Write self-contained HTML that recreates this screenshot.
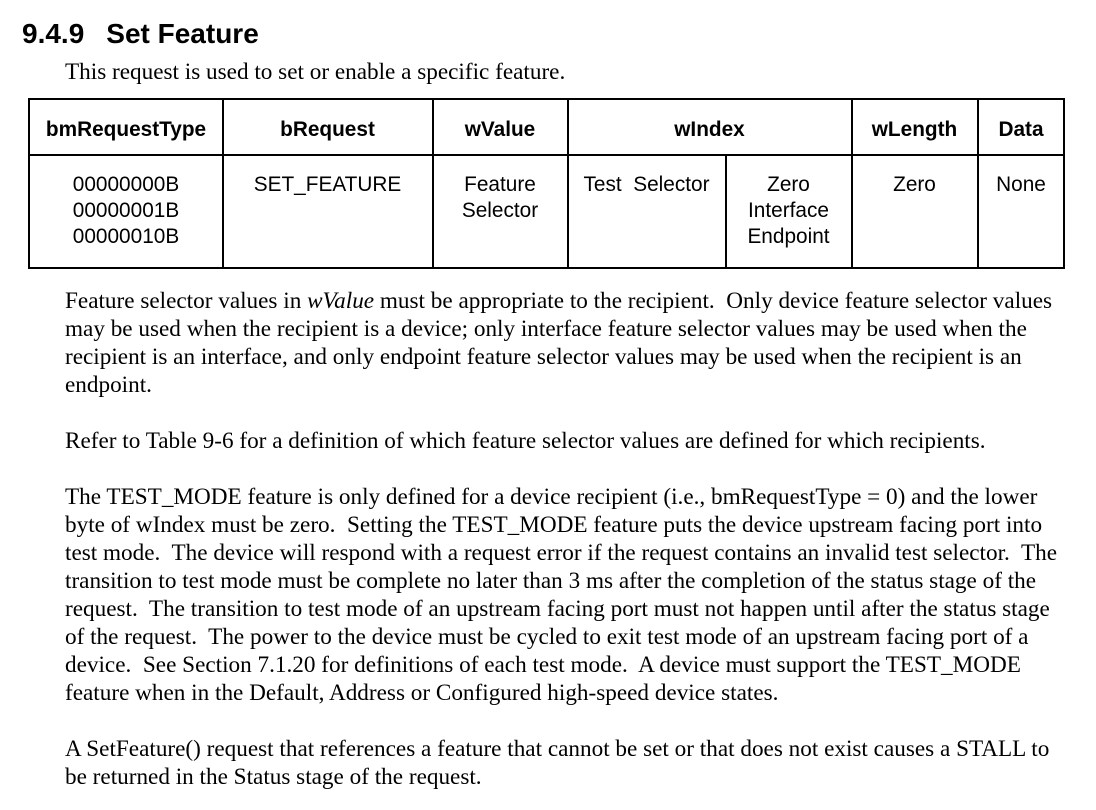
<!DOCTYPE html>
<html><head><meta charset="utf-8"><style>
body{margin:0;width:1096px;height:810px;background:#fff;position:relative;overflow:hidden;color:#000}
.s{font-family:"Liberation Sans",sans-serif}
.t{font-family:"Liberation Serif",serif;font-size:23.2px;position:absolute;left:65px;white-space:nowrap;line-height:28px}
.a{position:absolute}
.c{position:absolute;font-family:"Liberation Sans",sans-serif;font-size:20.8px;text-align:center;line-height:26px;white-space:nowrap}
.h{font-weight:bold;top:117px}
.vl{position:absolute;background:#000;width:1.5px}
</style></head><body>
<div class="a s" style="left:22px;top:18px;font-size:28px;font-weight:bold">9.4.9<span style="display:inline-block;width:22px"></span>Set Feature</div>
<div class="t" style="top:58px">This request is used to set or enable a specific feature.</div>

<div class="a" style="left:28px;top:98px;width:1033px;height:167px;border:2.5px solid #000"></div>
<div class="a" style="left:29px;top:154px;width:1035px;height:1.5px;background:#000"></div>
<div class="vl" style="left:222px;top:100px;height:167px"></div>
<div class="vl" style="left:432px;top:100px;height:167px"></div>
<div class="vl" style="left:567px;top:100px;height:167px"></div>
<div class="vl" style="left:725px;top:155px;height:112px"></div>
<div class="vl" style="left:851px;top:100px;height:167px"></div>
<div class="vl" style="left:977px;top:100px;height:167px"></div>

<div class="c h" style="left:30px;width:192px">bmRequestType</div>
<div class="c h" style="left:223px;width:209px">bRequest</div>
<div class="c h" style="left:433px;width:134px">wValue</div>
<div class="c h" style="left:568px;width:283px">wIndex</div>
<div class="c h" style="left:852px;width:125px">wLength</div>
<div class="c h" style="left:978px;width:86px">Data</div>

<div class="c" style="left:30px;width:192px;top:172px">00000000B<br>00000001B<br>00000010B</div>
<div class="c" style="left:223px;width:209px;top:172px">SET_FEATURE</div>
<div class="c" style="left:433px;width:134px;top:172px">Feature<br>Selector</div>
<div class="c" style="left:568px;width:157px;top:172px">Test&nbsp; Selector</div>
<div class="c" style="left:726px;width:125px;top:172px">Zero<br>Interface<br>Endpoint</div>
<div class="c" style="left:852px;width:125px;top:172px">Zero</div>
<div class="c" style="left:978px;width:86px;top:172px">None</div>

<div class="t" style="top:287px">Feature selector values in <i>wValue</i> must be appropriate to the recipient.&nbsp; Only device feature selector values</div>
<div class="t" style="top:315px">may be used when the recipient is a device; only interface feature selector values may be used when the</div>
<div class="t" style="top:343px">recipient is an interface, and only endpoint feature selector values may be used when the recipient is an</div>
<div class="t" style="top:371px">endpoint.</div>
<div class="t" style="top:427px">Refer to Table 9-6 for a definition of which feature selector values are defined for which recipients.</div>
<div class="t" style="top:483px">The TEST_MODE feature is only defined for a device recipient (i.e., bmRequestType = 0) and the lower</div>
<div class="t" style="top:511px">byte of wIndex must be zero.&nbsp; Setting the TEST_MODE feature puts the device upstream facing port into</div>
<div class="t" style="top:539px">test mode.&nbsp; The device will respond with a request error if the request contains an invalid test selector.&nbsp; The</div>
<div class="t" style="top:567px">transition to test mode must be complete no later than 3 ms after the completion of the status stage of the</div>
<div class="t" style="top:595px">request.&nbsp; The transition to test mode of an upstream facing port must not happen until after the status stage</div>
<div class="t" style="top:623px">of the request.&nbsp; The power to the device must be cycled to exit test mode of an upstream facing port of a</div>
<div class="t" style="top:651px">device.&nbsp; See Section 7.1.20 for definitions of each test mode.&nbsp; A device must support the TEST_MODE</div>
<div class="t" style="top:679px">feature when in the Default, Address or Configured high-speed device states.</div>
<div class="t" style="top:735px">A SetFeature() request that references a feature that cannot be set or that does not exist causes a STALL to</div>
<div class="t" style="top:763px">be returned in the Status stage of the request.</div>
</body></html>
